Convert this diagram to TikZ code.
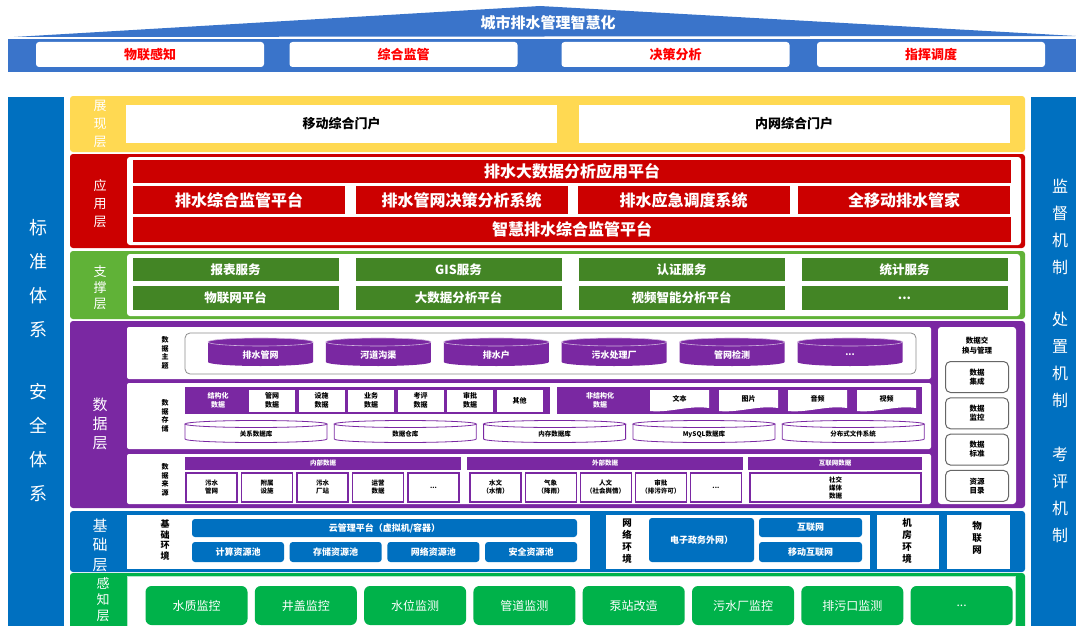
\documentclass[tikz,border=0pt]{standalone}
\usepackage{fontspec}
\setmainfont{Noto Sans CJK SC}
\usetikzlibrary{positioning,backgrounds}

\definecolor{roofblue}{RGB}{58,116,202}
\definecolor{sideblue}{RGB}{0,112,192}
\definecolor{showyellow}{RGB}{255,217,82}
\definecolor{appred}{RGB}{204,0,0}
\definecolor{supgreen}{RGB}{96,178,55}
\definecolor{supdark}{RGB}{67,133,37}
\definecolor{datapurple}{RGB}{122,40,162}
\definecolor{baseblue}{RGB}{0,112,192}
\definecolor{sensegreen}{RGB}{0,178,74}
\definecolor{goalred}{RGB}{255,0,0}

\newcommand{\etcdots}{...}

\begin{document}
\begin{tikzpicture}[x=1pt,y=-1pt,
  every node/.style={inner sep=0pt, outer sep=0pt},
  sidetext/.style={text=white, align=center, font=\fontsize{18}{34}\selectfont},
  ruletext/.style={text=white, align=center, font=\fontsize{16}{27}\selectfont},
  layertext/.style={text=white, align=center, font=\fontsize{13}{18}\selectfont},
  goalbox/.style={fill=white, rounded corners=3pt, minimum width=228, minimum height=25,
    text=goalred, font=\bfseries\fontsize{13}{15}\selectfont},
  portal/.style={fill=white, minimum width=431, minimum height=38,
    font=\bfseries\fontsize{13}{15}\selectfont},
  appbox/.style={fill=appred, text=white, font=\bfseries\fontsize{16}{18}\selectfont},
  supbox/.style={fill=supdark, text=white, minimum width=206, font=\bfseries\fontsize{12.5}{15}\selectfont},
  tinylabel/.style={align=center, font=\bfseries\fontsize{7}{8.5}\selectfont},
  topictext/.style={text=white, font=\bfseries\fontsize{9}{11}\selectfont},
  cellbox/.style={fill=white, minimum width=46, minimum height=22, align=center,
    font=\bfseries\fontsize{7}{8.5}\selectfont},
  srchead/.style={fill=datapurple, text=white, minimum height=13, font=\bfseries\fontsize{6.5}{8}\selectfont},
  srcbox/.style={fill=white, draw=datapurple, line width=1.2pt, minimum width=51, minimum height=29,
    align=center, font=\bfseries\fontsize{6.5}{8}\selectfont},
  mgmtbox/.style={draw=black!60, line width=1pt, rounded corners=5pt, minimum width=63, minimum height=31,
    align=center, font=\bfseries\fontsize{7.5}{9}\selectfont},
  basebox/.style={fill=baseblue, text=white, rounded corners=3pt, font=\bfseries\fontsize{9}{11}\selectfont},
  envlabel/.style={align=center, font=\bfseries\fontsize{9.5}{12}\selectfont},
  sensebox/.style={fill=sensegreen, text=white, rounded corners=6pt, minimum width=102, minimum height=39,
    font=\fontsize{12}{14}\selectfont}
  ]
  \useasboundingbox (0,0) rectangle (1076,626);

  % Goal band
  \fill[roofblue] (14,37) -- (540,6) -- (1076,36) -- cycle;
  \fill[roofblue] (8,39) rectangle (1076,72);
  \node[text=white, font=\bfseries\fontsize{15}{18}\selectfont] (goal) at (548,23) {城市排水管理智慧化};
  \foreach \t/\x [count=\i] in {物联感知/150, 综合监管/403.5, 决策分析/675.5, 指挥调度/931}
    \node[goalbox] (goal\i) at (\x,54.5) {\t};

  % Side columns
  \fill[sideblue] (8,97) rectangle (64,626);
  \fill[sideblue] (1031,97) rectangle (1076,626);
  \node[sidetext] (std) at (38,279) {标\\准\\体\\系};
  \node[sidetext] (safe) at (38,443) {安\\全\\体\\系};
  \node[ruletext] (supervise) at (1060,227) {监\\督\\机\\制};
  \node[ruletext] (handle) at (1060,360) {处\\置\\机\\制};
  \node[ruletext] (assess) at (1060,495) {考\\评\\机\\制};

  % Presentation layer
  \fill[showyellow, rounded corners=3pt] (70,96) rectangle (1025,152);
  \node[layertext] (show) at (100,124) {展\\现\\层};
  \node[portal] (mobile) at (341.5,123.5) {移动综合门户};
  \node[portal] (intranet) at (794,123.5) {内网综合门户};

  % Application layer
  \fill[appred, rounded corners=3pt] (70,154) rectangle (1025,248);
  \fill[white, rounded corners=3pt] (127,157) rectangle (1021,245);
  \node[layertext] (app) at (100,204) {应\\用\\层};
  \node[appbox, minimum width=878, minimum height=23] (bigdata) at (572,171.5) {排水大数据分析应用平台};
  \foreach \t/\x [count=\i] in {排水综合监管平台/239, 排水管网决策分析系统/461.5,
      排水应急调度系统/683.5, 全移动排水管家/904}
    \node[appbox, minimum width=212, minimum height=28] (sys\i) at (\x,200) {\t};
  \node[appbox, minimum width=878, minimum height=25] (smart) at (572,229.5) {智慧排水综合监管平台};

  % Support layer
  \fill[supgreen, rounded corners=3pt] (70,251) rectangle (1025,319);
  \fill[white, rounded corners=3pt] (127,254) rectangle (1020,316);
  \node[layertext, font=\fontsize{13}{16}\selectfont] (support) at (100,288) {支\\撑\\层};
  \foreach \t/\u [count=\i, evaluate=\i as \x using 235.5+223*(\i-1)] in {报表服务/物联网平台,
      GIS服务/大数据分析平台, 认证服务/视频智能分析平台, 统计服务/\etcdots} {
    \node[supbox, minimum height=23] (svc\i) at (\x,269.5) {\t};
    \node[supbox, minimum height=24] (plat\i) at (\x,298) {\u};
  }

  % Data layer
  \fill[datapurple, rounded corners=3pt] (70,321) rectangle (1025,508);
  \node[layertext, font=\fontsize{15}{19}\selectfont] (data) at (100,424) {数\\据\\层};
  \fill[white, rounded corners=2pt] (127,327) rectangle (931,379);
  \fill[white, rounded corners=2pt] (127,383) rectangle (931,449);
  \fill[white, rounded corners=2pt] (127,454) rectangle (931,504);
  \fill[white, rounded corners=3pt] (938,327) rectangle (1016,504);
  \node[tinylabel] (topiclbl) at (165,353) {数\\据\\主\\题};
  \node[tinylabel] (storelbl) at (165,416) {数\\据\\存\\储};
  \node[tinylabel] (srclbl) at (165,480) {数\\据\\来\\源};

  % data topics
  \draw[black!45, line width=0.8pt, rounded corners=5pt] (185,333) rectangle (916,374);
  \foreach \t [count=\i, evaluate=\i as \x using 260.5+117.9*(\i-1)] in {排水管网, 河道沟渠,
      排水户, 污水处理厂, 管网检测, \etcdots} {
    \fill[datapurple] ({\x-52.5},342) -- ({\x-52.5},362)
      arc[start angle=180, end angle=360, x radius=52.5pt, y radius=4pt] -- ({\x+52.5},342)
      arc[start angle=0, end angle=180, x radius=52.5pt, y radius=4pt] -- cycle;
    \draw[white!65!datapurple, line width=0.6pt] (\x,342) ellipse[x radius=52.5pt, y radius=4pt];
    \node[topictext] (topic\i) at (\x,355) {\t};
  }

  % data storage
  \fill[datapurple] (185,387) rectangle (550,414);
  \node[tinylabel, text=white] (structlbl) at (218,400.5) {结构化\\数据};
  \foreach \t [count=\i, evaluate=\i as \x using 272+49.5*(\i-1)] in {管网\\数据, 设施\\数据,
      业务\\数据, 考评\\数据, 审批\\数据, 其他}
    \node[cellbox] (struct\i) at (\x,400.5) {\t};
  \fill[datapurple] (557,387) rectangle (922,414);
  \node[tinylabel, text=white] (unstructlbl) at (600,400.5) {非结构化\\数据};
  \foreach \t [count=\i, evaluate=\i as \x using 679.5+69*(\i-1)] in {文本, 图片, 音频, 视频} {
    \fill[white] ({\x-29.5},390) -- ({\x+29.5},390) -- ({\x+29.5},408)
      .. controls ({\x+10},405) and ({\x-10},413) .. ({\x-29.5},411) -- cycle;
    \node[tinylabel] (unstruct\i) at (\x,399) {\t};
  }
  \foreach \t [count=\i, evaluate=\i as \x using 256+149.3*(\i-1)] in {关系数据库, 数据仓库,
      内存数据库, MySQL数据库, 分布式文件系统} {
    \fill[white] ({\x-71},424) -- ({\x-71},439)
      arc[start angle=180, end angle=360, x radius=71pt, y radius=3.5pt] -- ({\x+71},424) -- cycle;
    \draw[datapurple, line width=0.8pt] ({\x-71},424) -- ({\x-71},439)
      arc[start angle=180, end angle=360, x radius=71pt, y radius=3.5pt] -- ({\x+71},424);
    \draw[datapurple, line width=0.8pt] (\x,424) ellipse[x radius=71pt, y radius=3.5pt];
    \node[tinylabel, font=\bfseries\fontsize{6.5}{8}\selectfont] (db\i) at (\x,434) {\t};
  }

  % data sources
  \node[srchead, minimum width=276] (inner) at (323,463.5) {内部数据};
  \node[srchead, minimum width=276] (outer) at (605,463.5) {外部数据};
  \node[srchead, minimum width=174] (web) at (835,463.5) {互联网数据};
  \foreach \t [count=\i, evaluate=\i as \x using 211.5+55.5*(\i-1)] in {污水\\管网, 附属\\设施,
      污水\\厂站, 运营\\数据, \etcdots}
    \node[srcbox] (in\i) at (\x,487.5) {\t};
  \foreach \t [count=\i, evaluate=\i as \x using 495.5+55.1*(\i-1)] in {水文\\（水情）, 气象\\（降雨）,
      人文\\（社会舆情）, 审批\\（排污许可）, \etcdots}
    \node[srcbox] (out\i) at (\x,487.5) {\t};
  \node[srcbox, minimum width=171] (social) at (835.5,487.5) {社交\\媒体\\数据};

  % data exchange
  \node[tinylabel, font=\bfseries\fontsize{7.5}{10}\selectfont] (xchg) at (977,346) {数据交\\换与管理};
  \foreach \t [count=\i, evaluate=\i as \y using 377+36.3*(\i-1)] in {数据\\集成, 数据\\监控,
      数据\\标准, 资源\\目录}
    \node[mgmtbox] (mgmt\i) at (977,\y) {\t};

  % Base layer
  \fill[baseblue, rounded corners=3pt] (70,511) rectangle (1025,572);
  \node[layertext, font=\fontsize{15}{19.5}\selectfont] (base) at (100,545) {基\\础\\层};
  \fill[white] (127,515) rectangle (590,569);
  \fill[white] (606,515) rectangle (870,569);
  \fill[white] (877,515) rectangle (939,569);
  \fill[white] (947,515) rectangle (1010,569);
  \node[envlabel, font=\bfseries\fontsize{9}{10.4}\selectfont] (baseenv) at (165,540) {基\\础\\环\\境};
  \node[envlabel] (netenv) at (627,541) {网\\络\\环\\境};
  \node[envlabel] (roomenv) at (907,541) {机\\房\\环\\境};
  \node[envlabel] (iot) at (977,538) {物\\联\\网};
  \node[basebox, minimum width=385, minimum height=18] (cloud) at (384.5,528) {云管理平台（虚拟机/容器）};
  \foreach \t [count=\i, evaluate=\i as \x using 238+97.7*(\i-1)] in {计算资源池, 存储资源池,
      网络资源池, 安全资源池}
    \node[basebox, minimum width=92, minimum height=20] (pool\i) at (\x,552) {\t};
  \node[basebox, minimum width=105, minimum height=44] (gov) at (701.5,540) {电子政务外网）};
  \node[basebox, minimum width=103, minimum height=19] (internet) at (810.5,527.5) {互联网};
  \node[basebox, minimum width=103, minimum height=20] (mobilenet) at (810.5,552) {移动互联网};

  % Sensing layer
  \fill[sensegreen, rounded corners=3pt] (70,573) rectangle (1025,630);
  \filldraw[fill=white, draw=sensegreen!30, line width=1pt] (127,576) rectangle (1015,630);
  \node[layertext, font=\fontsize{13}{16}\selectfont] (sense) at (103,600) {感\\知\\层};
  \foreach \t [count=\i, evaluate=\i as \x using 196.5+109.3*(\i-1)] in {水质监控, 井盖监控,
      水位监测, 管道监测, 泵站改造, 污水厂监控, 排污口监测, \etcdots}
    \node[sensebox] (probe\i) at (\x,605.5) {\t};
\end{tikzpicture}
\end{document}
